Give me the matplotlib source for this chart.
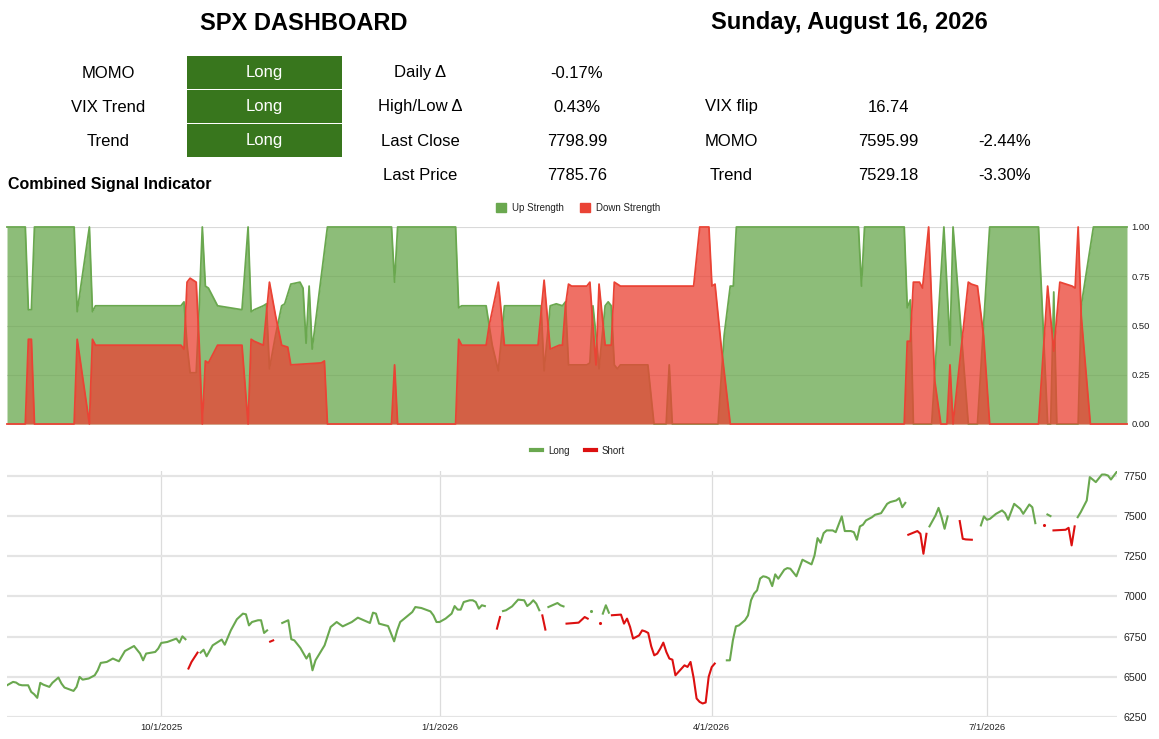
import numpy as np
import pandas as pd
import matplotlib
matplotlib.use('Agg')
import matplotlib.pyplot as plt
from matplotlib.patches import Rectangle, Patch
from matplotlib.lines import Line2D

plt.rcParams['font.family'] = ['Liberation Sans', 'DejaVu Sans']

W, H = 1159, 739

# ---- dashboard table ----
title_left = 'SPX DASHBOARD'
title_right = 'Sunday, August 16, 2026'
signal_names = ['MOMO', 'VIX Trend', 'Trend']
signal_states = ['Long', 'Long', 'Long']
stat_names = ['Daily \u0394', 'High/Low \u0394', 'Last Close', 'Last Price']
stat_values = ['-0.17%', '0.43%', '7798.99', '7785.76']
level_names = ['VIX flip', 'MOMO', 'Trend']
level_values = ['16.74', '7595.99', '7529.18']
level_dist = ['', '-2.44%', '-3.30%']

# ---- combined signal indicator ----
up_dates = ['2025-08-11', '2025-08-17', '2025-08-18', '2025-08-19', '2025-08-20', '2025-09-02',
            '2025-09-03', '2025-09-07', '2025-09-08', '2025-09-09', '2025-10-07', '2025-10-08',
            '2025-10-09', '2025-10-10', '2025-10-12', '2025-10-13', '2025-10-14', '2025-10-15',
            '2025-10-16', '2025-10-19', '2025-10-27', '2025-10-29', '2025-10-30', '2025-10-31',
            '2025-11-03', '2025-11-04', '2025-11-05', '2025-11-07', '2025-11-09', '2025-11-10',
            '2025-11-12', '2025-11-15', '2025-11-16', '2025-11-17', '2025-11-18', '2025-11-19',
            '2025-11-24', '2025-12-15', '2025-12-16', '2025-12-17', '2026-01-05', '2026-01-06',
            '2026-01-07', '2026-01-15', '2026-01-16', '2026-01-17', '2026-01-19', '2026-01-21',
            '2026-02-01', '2026-02-02', '2026-02-03', '2026-02-05', '2026-02-07', '2026-02-09',
            '2026-02-10', '2026-02-11', '2026-02-17', '2026-02-18', '2026-02-19', '2026-02-20',
            '2026-02-21', '2026-02-23', '2026-02-24', '2026-02-25', '2026-02-26', '2026-02-27',
            '2026-02-28', '2026-03-09', '2026-03-11', '2026-03-15', '2026-03-16', '2026-03-17',
            '2026-04-01', '2026-04-03', '2026-04-05', '2026-04-06', '2026-04-07', '2026-05-17',
            '2026-05-18', '2026-05-19', '2026-06-01', '2026-06-02', '2026-06-03', '2026-06-04',
            '2026-06-10', '2026-06-14', '2026-06-16', '2026-06-17', '2026-06-22', '2026-06-25',
            '2026-06-29', '2026-07-15', '2026-07-18', '2026-07-19', '2026-07-20', '2026-07-21',
            '2026-07-28', '2026-07-29', '2026-08-02', '2026-08-13']
up_strength = [1.0, 1.0, 0.58, 0.58, 1.0, 1.0,
               0.57, 1.0, 0.57, 0.60, 0.60, 0.62,
               0.40, 0.26, 0.26, 0.60, 1.0, 0.70,
               0.69, 0.60, 0.58, 1.0, 0.57, 0.58,
               0.60, 0.61, 0.28, 0.45, 0.60, 0.61,
               0.71, 0.72, 0.69, 0.41, 0.70, 0.38,
               1.0, 1.0, 0.72, 1.0, 1.0, 0.59,
               0.60, 0.60, 0.50, 0.40, 0.27, 0.60,
               0.60, 0.60, 0.27, 0.60, 0.61, 0.60,
               0.62, 0.30, 0.30, 0.31, 0.60, 0.45,
               0.28, 0.60, 0.62, 0.60, 0.30, 0.28,
               0.30, 0.30, 0.0, 0.0, 0.30, 0.0,
               0.0, 0.45, 0.70, 0.70, 1.0, 1.0,
               0.70, 1.0, 1.0, 0.59, 0.63, 0.0,
               0.0, 1.0, 0.40, 1.0, 0.0, 0.0,
               1.0, 1.0, 0.0, 0.0, 0.67, 0.0,
               0.0, 0.60, 1.0, 1.0]

down_dates = ['2025-08-11', '2025-08-17', '2025-08-18', '2025-08-19', '2025-08-20', '2025-09-02',
              '2025-09-03', '2025-09-07', '2025-09-08', '2025-09-09', '2025-10-07', '2025-10-08',
              '2025-10-09', '2025-10-10', '2025-10-12', '2025-10-13', '2025-10-14', '2025-10-15',
              '2025-10-16', '2025-10-19', '2025-10-27', '2025-10-29', '2025-10-30', '2025-10-31',
              '2025-11-03', '2025-11-05', '2025-11-07', '2025-11-09', '2025-11-11', '2025-11-12',
              '2025-11-22', '2025-11-23', '2025-11-24', '2025-12-15', '2025-12-16', '2025-12-17',
              '2026-01-05', '2026-01-06', '2026-01-07', '2026-01-15', '2026-01-16', '2026-01-19',
              '2026-01-21', '2026-02-01', '2026-02-03', '2026-02-05', '2026-02-08', '2026-02-09',
              '2026-02-10', '2026-02-11', '2026-02-12', '2026-02-17', '2026-02-18', '2026-02-19',
              '2026-02-20', '2026-02-21', '2026-02-23', '2026-02-25', '2026-02-26', '2026-02-28',
              '2026-03-24', '2026-03-26', '2026-03-29', '2026-03-30', '2026-03-31', '2026-04-02',
              '2026-04-05', '2026-06-01', '2026-06-02', '2026-06-03', '2026-06-04', '2026-06-06',
              '2026-06-07', '2026-06-09', '2026-06-11', '2026-06-13', '2026-06-15', '2026-06-16',
              '2026-06-17', '2026-06-22', '2026-06-23', '2026-06-25', '2026-06-27', '2026-06-29',
              '2026-07-15', '2026-07-18', '2026-07-20', '2026-07-22', '2026-07-26', '2026-07-27',
              '2026-07-28', '2026-07-29', '2026-08-01', '2026-08-13']
down_strength = [0.0, 0.0, 0.43, 0.43, 0.0, 0.0,
                 0.43, 0.0, 0.43, 0.40, 0.40, 0.38,
                 0.72, 0.74, 0.72, 0.40, 0.0, 0.32,
                 0.31, 0.40, 0.40, 0.0, 0.43, 0.42,
                 0.40, 0.72, 0.55, 0.40, 0.39, 0.30,
                 0.31, 0.32, 0.0, 0.0, 0.30, 0.0,
                 0.0, 0.43, 0.40, 0.40, 0.50, 0.72,
                 0.40, 0.40, 0.73, 0.38, 0.40, 0.40,
                 0.60, 0.71, 0.70, 0.70, 0.72, 0.50,
                 0.30, 0.71, 0.40, 0.40, 0.72, 0.70,
                 0.70, 1.0, 1.0, 0.70, 0.71, 0.40,
                 0.0, 0.0, 0.42, 0.42, 0.72, 0.72,
                 0.69, 1.0, 0.22, 0.0, 0.0, 0.30,
                 0.0, 0.72, 0.71, 0.70, 0.45, 0.0,
                 0.0, 0.70, 0.37, 0.72, 0.70, 0.69,
                 1.0, 0.55, 0.0, 0.0]

# ---- SPX close with side of the combined signal (L = long, S = short) ----
price_dates = ['2025-08-11', '2025-08-13', '2025-08-14', '2025-08-15', '2025-08-16', '2025-08-18',
               '2025-08-19', '2025-08-20', '2025-08-21', '2025-08-22', '2025-08-23', '2025-08-25',
               '2025-08-26', '2025-08-28', '2025-08-29', '2025-08-30', '2025-09-02', '2025-09-03',
               '2025-09-04', '2025-09-05', '2025-09-07', '2025-09-09', '2025-09-10', '2025-09-11',
               '2025-09-13', '2025-09-15', '2025-09-17', '2025-09-19', '2025-09-22', '2025-09-24',
               '2025-09-25', '2025-09-26', '2025-09-29', '2025-09-30', '2025-10-01', '2025-10-03',
               '2025-10-06', '2025-10-07', '2025-10-08', '2025-10-09', '2025-10-10', '2025-10-11',
               '2025-10-13', '2025-10-14', '2025-10-15', '2025-10-16', '2025-10-18', '2025-10-21',
               '2025-10-22', '2025-10-24', '2025-10-26', '2025-10-28', '2025-10-29', '2025-10-30',
               '2025-10-31', '2025-11-02', '2025-11-03', '2025-11-04', '2025-11-05', '2025-11-06',
               '2025-11-07', '2025-11-10', '2025-11-12', '2025-11-13', '2025-11-14', '2025-11-16',
               '2025-11-18', '2025-11-19', '2025-11-20', '2025-11-21', '2025-11-24', '2025-11-26',
               '2025-11-28', '2025-11-30', '2025-12-03', '2025-12-05', '2025-12-09', '2025-12-10',
               '2025-12-11', '2025-12-12', '2025-12-15', '2025-12-16', '2025-12-17', '2025-12-18',
               '2025-12-19', '2025-12-21', '2025-12-23', '2025-12-24', '2025-12-26', '2025-12-29',
               '2025-12-30', '2025-12-31', '2026-01-01', '2026-01-03', '2026-01-05', '2026-01-06',
               '2026-01-07', '2026-01-08', '2026-01-09', '2026-01-11', '2026-01-12', '2026-01-13',
               '2026-01-14', '2026-01-15', '2026-01-16', '2026-01-20', '2026-01-21', '2026-01-22',
               '2026-01-23', '2026-01-25', '2026-01-27', '2026-01-29', '2026-01-30', '2026-01-31',
               '2026-02-01', '2026-02-02', '2026-02-03', '2026-02-04', '2026-02-05', '2026-02-06',
               '2026-02-08', '2026-02-09', '2026-02-10', '2026-02-11', '2026-02-12', '2026-02-16',
               '2026-02-18', '2026-02-19', '2026-02-20', '2026-02-23', '2026-02-24', '2026-02-25',
               '2026-02-26', '2026-02-27', '2026-03-02', '2026-03-03', '2026-03-04', '2026-03-05',
               '2026-03-06', '2026-03-08', '2026-03-09', '2026-03-10', '2026-03-11', '2026-03-12',
               '2026-03-13', '2026-03-14', '2026-03-15', '2026-03-16', '2026-03-17', '2026-03-18',
               '2026-03-19', '2026-03-20', '2026-03-21', '2026-03-23', '2026-03-24', '2026-03-25',
               '2026-03-26', '2026-03-27', '2026-03-28', '2026-03-29', '2026-03-30', '2026-03-31',
               '2026-04-01', '2026-04-02', '2026-04-06', '2026-04-07', '2026-04-08', '2026-04-09',
               '2026-04-10', '2026-04-12', '2026-04-13', '2026-04-14', '2026-04-15', '2026-04-16',
               '2026-04-17', '2026-04-18', '2026-04-19', '2026-04-20', '2026-04-21', '2026-04-22',
               '2026-04-23', '2026-04-25', '2026-04-26', '2026-04-27', '2026-04-29', '2026-05-01',
               '2026-05-02', '2026-05-04', '2026-05-05', '2026-05-06', '2026-05-07', '2026-05-08',
               '2026-05-09', '2026-05-11', '2026-05-12', '2026-05-14', '2026-05-15', '2026-05-17',
               '2026-05-18', '2026-05-19', '2026-05-20', '2026-05-21', '2026-05-22', '2026-05-24',
               '2026-05-25', '2026-05-27', '2026-05-29', '2026-05-30', '2026-06-01', '2026-06-02',
               '2026-06-03', '2026-06-04', '2026-06-05', '2026-06-08', '2026-06-09', '2026-06-10',
               '2026-06-11', '2026-06-12', '2026-06-14', '2026-06-15', '2026-06-16', '2026-06-17',
               '2026-06-18', '2026-06-22', '2026-06-23', '2026-06-24', '2026-06-26', '2026-06-29',
               '2026-06-30', '2026-07-01', '2026-07-02', '2026-07-04', '2026-07-06', '2026-07-07',
               '2026-07-08', '2026-07-10', '2026-07-12', '2026-07-13', '2026-07-15', '2026-07-16',
               '2026-07-17', '2026-07-20', '2026-07-21', '2026-07-22', '2026-07-23', '2026-07-27',
               '2026-07-28', '2026-07-29', '2026-07-30', '2026-07-31', '2026-08-01', '2026-08-03',
               '2026-08-04', '2026-08-06', '2026-08-08', '2026-08-09', '2026-08-10', '2026-08-11',
               '2026-08-12', '2026-08-13']
price_close = [6447, 6468, 6464, 6451, 6447, 6447,
               6406, 6391, 6369, 6462, 6451, 6437,
               6462, 6495, 6458, 6433, 6412, 6437,
               6499, 6482, 6489, 6509, 6540, 6586,
               6592, 6613, 6596, 6660, 6691, 6644,
               6602, 6644, 6654, 6675, 6710, 6716,
               6737, 6712, 6751, 6733, 6551, 6592,
               6650, 6650, 6668, 6627, 6695, 6731,
               6699, 6788, 6857, 6892, 6888, 6819,
               6840, 6851, 6851, 6772, 6788, 6718,
               6726, 6834, 6851, 6733, 6726, 6679,
               6613, 6644, 6540, 6602, 6695, 6809,
               6840, 6813, 6840, 6867, 6834, 6898,
               6892, 6830, 6815, 6768, 6720, 6788,
               6840, 6871, 6902, 6933, 6927, 6906,
               6881, 6840, 6840, 6861, 6892, 6939,
               6917, 6917, 6964, 6975, 6975, 6964,
               6923, 6944, 6939, 6799, 6871, 6908,
               6913, 6937, 6979, 6975, 6939, 6954,
               6975, 6954, 6913, 6881, 6793, 6933,
               6950, 6958, 6944, 6937, 6830, 6836,
               6871, 6861, 6908, 6834, 6892, 6944,
               6898, 6882, 6886, 6830, 6861, 6810,
               6737, 6757, 6788, 6782, 6772, 6689,
               6633, 6644, 6675, 6712, 6654, 6613,
               6606, 6509, 6530, 6571, 6561, 6592,
               6495, 6365, 6344, 6334, 6340, 6500,
               6560, 6582, 6602, 6602, 6726, 6813,
               6819, 6851, 6881, 6975, 7016, 7037,
               7110, 7124, 7120, 7110, 7063, 7136,
               7109, 7165, 7175, 7171, 7124, 7227,
               7217, 7198, 7254, 7361, 7332, 7392,
               7409, 7409, 7398, 7496, 7405, 7405,
               7398, 7351, 7434, 7444, 7471, 7491,
               7506, 7516, 7574, 7585, 7595, 7609,
               7553, 7580, 7382, 7405, 7388, 7264,
               7388, 7434, 7502, 7549, 7491, 7419,
               7496, 7467, 7357, 7353, 7351, 7440,
               7496, 7475, 7481, 7512, 7533, 7516,
               7475, 7574, 7543, 7512, 7570, 7553,
               7454, 7440, 7508, 7498, 7409, 7413,
               7425, 7316, 7434, 7491, 7522, 7595,
               7740, 7709, 7756, 7756, 7750, 7725,
               7750, 7775]
price_side = ('LLLLLL' 'LLLLLL' 'LLLLLL' 'LLLLLL' 'LLLLLL' 'LLLLLL'
              'LLLLSS' 'SLLLLL' 'LLLLLL' 'LLLLLS' 'SLLLLL' 'LLLLLL'
              'LLLLLL' 'LLLLLL' 'LLLLLL' 'LLLLLL' 'LLLLLL' 'LLLSSL'
              'LLLLLL' 'LLLSSL' 'LLLLSS' 'SSLSLL' 'LSSSSS' 'SSSSSS'
              'SSSSSS' 'SSSSSS' 'SSSSSS' 'SSLLLL' 'LLLLLL' 'LLLLLL'
              'LLLLLL' 'LLLLLL' 'LLLLLL' 'LLLLLL' 'LLLLLL' 'LLSSSS'
              'SLLLLL' 'LSSSSL' 'LLLLLL' 'LLLLLL' 'LSLLSS' 'SSSLLL'
              'LLLLLL' 'LL')

date_ticks = ['2025-10-01', '2026-01-01', '2026-04-01', '2026-07-01']
date_labels = ['10/1/2025', '1/1/2026', '4/1/2026', '7/1/2026']
price_ticks = [6250, 6500, 6750, 7000, 7250, 7500, 7750]
signal_ticks = [0.0, 0.25, 0.5, 0.75, 1.0]

up_color = '#6aa84f'
down_color = '#ea4335'
long_color = '#6aa84f'
short_color = '#dc1010'
box_color = '#38761d'


def fx(x):
    return x / W


def fy(y):
    return 1 - y / H


fig = plt.figure(figsize=(W / 100, H / 100), dpi=100)

# titles
fig.text(fx(303.5), fy(23), title_left, ha='center', va='center', fontsize=17, fontweight='bold')
fig.text(fx(849.5), fy(23), title_right, ha='center', va='center', fontsize=17, fontweight='bold')

row_y = [73, 107, 141, 175]
box_edges = [(56, 89), (90.3, 123), (124.3, 157)]

for i, (name, state) in enumerate(zip(signal_names, signal_states)):
    top, bot = box_edges[i]
    fig.patches.append(Rectangle((fx(187), fy(bot)), (342 - 187) / W, (bot - top) / H,
                                 transform=fig.transFigure, color=box_color, lw=0))
    fig.text(fx(108), fy(row_y[i]), name, ha='center', va='center', fontsize=12)
    fig.text(fx(264.5), fy(row_y[i]), state, ha='center', va='center', fontsize=12, color='white')

for i, (name, val) in enumerate(zip(stat_names, stat_values)):
    fig.text(fx(420.5), fy(row_y[i]), name, ha='center', va='center', fontsize=12)
    fig.text(fx(577), fy(row_y[i]), val, ha='center', va='center', fontsize=12)

for i, (name, val, dist) in enumerate(zip(level_names, level_values, level_dist)):
    fig.text(fx(731), fy(row_y[i + 1]), name, ha='center', va='center', fontsize=12)
    fig.text(fx(888.5), fy(row_y[i + 1]), val, ha='center', va='center', fontsize=12)
    if dist:
        fig.text(fx(1005), fy(row_y[i + 1]), dist, ha='center', va='center', fontsize=12)

fig.text(fx(7.5), fy(185), 'Combined Signal Indicator', ha='left', va='center',
         fontsize=11.5, fontweight='bold')

# ---- combined signal area chart ----
up_x = pd.to_datetime(up_dates)
down_x = pd.to_datetime(down_dates)
x_start = pd.Timestamp(price_dates[0])
x_end = pd.Timestamp(price_dates[-1])

ax1 = fig.add_axes([fx(7), fy(424), 1120 / W, 197 / H])
ax1.fill_between(up_x, up_strength, 0, color=up_color, alpha=0.76, lw=0, zorder=2)
ax1.plot(up_x, up_strength, color=up_color, lw=1.3, zorder=3, clip_on=False)
ax1.fill_between(down_x, down_strength, 0, color=down_color, alpha=0.76, lw=0, zorder=4)
ax1.plot(down_x, down_strength, color=down_color, lw=1.3, zorder=5, clip_on=False)
ax1.set_xlim(x_start, x_end)
ax1.set_ylim(0, 1)
ax1.set_yticks(signal_ticks)
ax1.set_yticklabels(['%.2f' % v for v in signal_ticks])
ax1.yaxis.tick_right()
ax1.set_xticks([])
ax1.tick_params(axis='y', length=0, labelsize=6.8, colors='#222222', pad=3)
ax1.grid(axis='y', color='#d9d9d9', lw=0.8, zorder=0)
for s in ax1.spines.values():
    s.set_visible(False)

fig.legend(handles=[Patch(color=up_color, label='Up Strength'),
                    Patch(color=down_color, label='Down Strength')],
           loc='center', bbox_to_anchor=(fx(578), fy(208)), ncol=2, frameon=False,
           fontsize=7, handlelength=1.05, handleheight=1.05, handletextpad=0.6,
           columnspacing=1.6, labelcolor='#222222')

# ---- price chart split by signal side ----
px = pd.to_datetime(price_dates)
close = np.array(price_close, dtype=float)
side = np.array(list(price_side))
long_y = np.where(side == 'L', close, np.nan)
short_y = np.where(side == 'S', close, np.nan)

ax2 = fig.add_axes([fx(7), fy(717), 1110 / W, 246 / H])
for y, colour in [(long_y, long_color), (short_y, short_color)]:
    ax2.plot(px, y, color=colour, lw=1.5, zorder=3)
    # single-day runs have no neighbour to connect to, mark them as a dot
    valid = ~np.isnan(y)
    prev_ok = np.r_[False, valid[:-1]]
    next_ok = np.r_[valid[1:], False]
    lone = valid & ~prev_ok & ~next_ok
    ax2.scatter(px[lone], y[lone], s=5, color=colour, zorder=3, lw=0)

ax2.set_xlim(x_start, x_end)
ax2.set_ylim(6250, 7778)
ax2.set_yticks(price_ticks)
ax2.yaxis.tick_right()
ax2.set_xticks(pd.to_datetime(date_ticks))
ax2.set_xticklabels(date_labels)
ax2.tick_params(length=0, labelsize=7.7, colors='#222222')
ax2.tick_params(axis='y', pad=5)
ax2.tick_params(axis='x', pad=4, labelsize=6.8)
ax2.grid(axis='y', color='#e4e4e4', lw=1.6, zorder=0)
ax2.grid(axis='x', color='#dcdcdc', lw=0.9, zorder=0)
for s in ax2.spines.values():
    s.set_visible(False)

fig.legend(handles=[Line2D([], [], color=long_color, lw=3, label='Long'),
                    Line2D([], [], color=short_color, lw=3, label='Short')],
           loc='center', bbox_to_anchor=(fx(578), fy(450.5)), ncol=2, frameon=False,
           fontsize=7, handlelength=1.1, handletextpad=0.6, columnspacing=1.6,
           labelcolor='#222222')

fig.savefig('out.png', dpi=100)
